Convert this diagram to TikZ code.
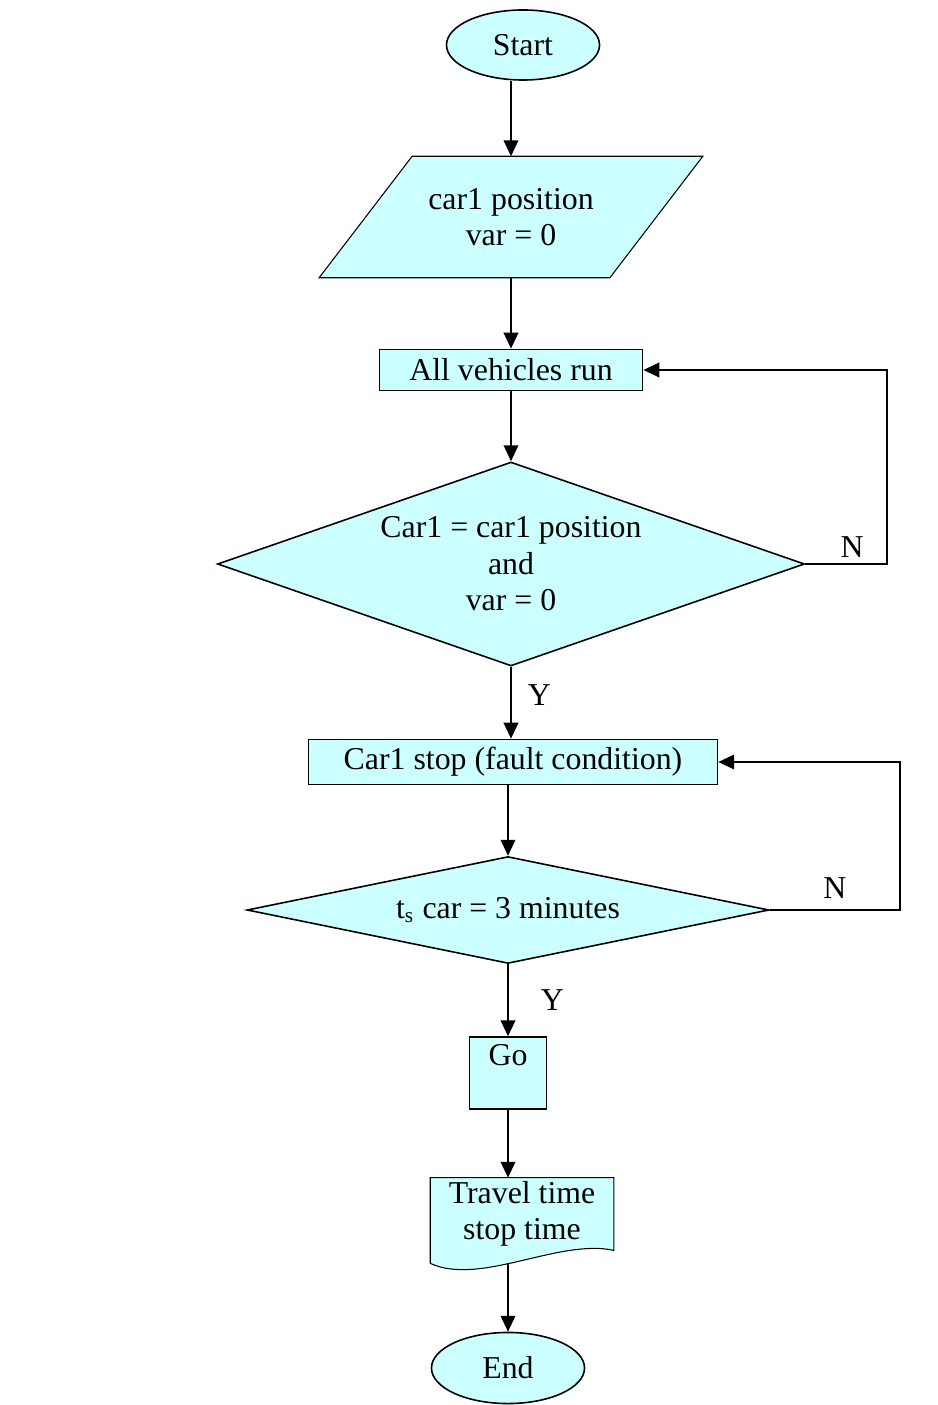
\documentclass[tikz,border=0pt]{standalone}
\usepackage{fontspec}
\setmainfont{Liberation Serif}
\usetikzlibrary{arrows.meta,shapes.geometric,backgrounds,calc}
\definecolor{boxfill}{RGB}{204,255,255}

\begin{document}
\begin{tikzpicture}[
  x=0.377pt,y=-0.377pt,line width=.6pt,
  font=\fontsize{12}{13.8}\selectfont,
  terminal/.style={ellipse,draw,fill=boxfill,minimum width=57.7pt,minimum height=26.4pt,inner sep=0pt},
  process/.style={rectangle,draw,fill=boxfill,inner sep=0pt,align=center},
  decision/.style={diamond,draw,fill=boxfill,inner sep=0pt,align=center},
  plainbody/.style={rectangle,inner sep=0pt,align=center},
  arrow/.style={-{Triangle[length=6pt,width=5.5pt]},draw,line width=.7pt},
  lbl/.style={inner sep=1pt}
]
\useasboundingbox (0,0) rectangle (937,1405);
\node[terminal] (start) at (523,45) {Start};
\node[plainbody,minimum width=109pt,minimum height=45.2pt] (pos) at (511,217) {car1 position\\var = 0};
\node[process,minimum width=99.2pt,minimum height=15.5pt] (run) at (511,370) {All vehicles run};
\node[decision,aspect=2.88,minimum width=221.3pt,minimum height=76.9pt] (check) at (511,564) {Car1 = car1 position\\and\\var = 0};
\node[process,minimum width=154.2pt,minimum height=17pt] (stop) at (513,762) {Car1 stop (fault condition)};
\node[decision,aspect=4.88,minimum width=196.8pt,minimum height=40.3pt] (wait) at (508,910) {t\textsubscript{s} car = 3 minutes};
\node[process,minimum width=29pt,minimum height=27.1pt,text height=8.5pt,text depth=13.8pt] (go) at (508,1073) {Go};
\node[plainbody,minimum width=68.6pt,minimum height=26.8pt] (report) at (522,1214) {Travel time\\stop time};
\node[terminal,minimum height=26.8pt] (end) at (508,1368) {End};
\coordinate (tail) at (508,1263);

% shapes drawn behind their text
\begin{scope}[on background layer]
\draw[fill=boxfill] ($(pos.north west)+(46.5,0)$) -- ($(pos.north east)+(46.5,0)$)
  -- ($(pos.south east)+(-46.5,0)$) -- ($(pos.south west)+(-46.5,0)$) -- cycle;
\draw[fill=boxfill] (report.north west) -- (report.north east) -- (report.south east)
  .. controls ($(report.south east)+(-55,-12)$) and ($(report.south west)+(50,36)$) .. ($(report.south west)+(0,13)$) -- cycle;
\end{scope}

\draw[arrow] (start.south -| pos.north) -- (pos.north);
\draw[arrow] (pos.south) -- (run.north);
\draw[arrow] (run.south) -- (check.north);
\draw[arrow] (check.east) -- ++(82,0) node[lbl,pos=.57,above=1pt]{N} |- (run.east);
\draw[arrow] (check.south) -- (check.south |- stop.north) node[lbl,pos=.4,right=5pt]{Y};
\draw[arrow] (wait.north |- stop.south) -- (wait.north);
\draw[arrow] (wait.east) -- ++(130,0) node[lbl,midway,above=3pt]{N} |- (stop.east);
\draw[arrow] (wait.south) -- (go.north) node[lbl,midway,right=11pt]{Y};
\draw[arrow] (go.south) -- (go.south |- report.north);
\draw[arrow] (tail) -- (end.north);
\end{tikzpicture}
\end{document}
